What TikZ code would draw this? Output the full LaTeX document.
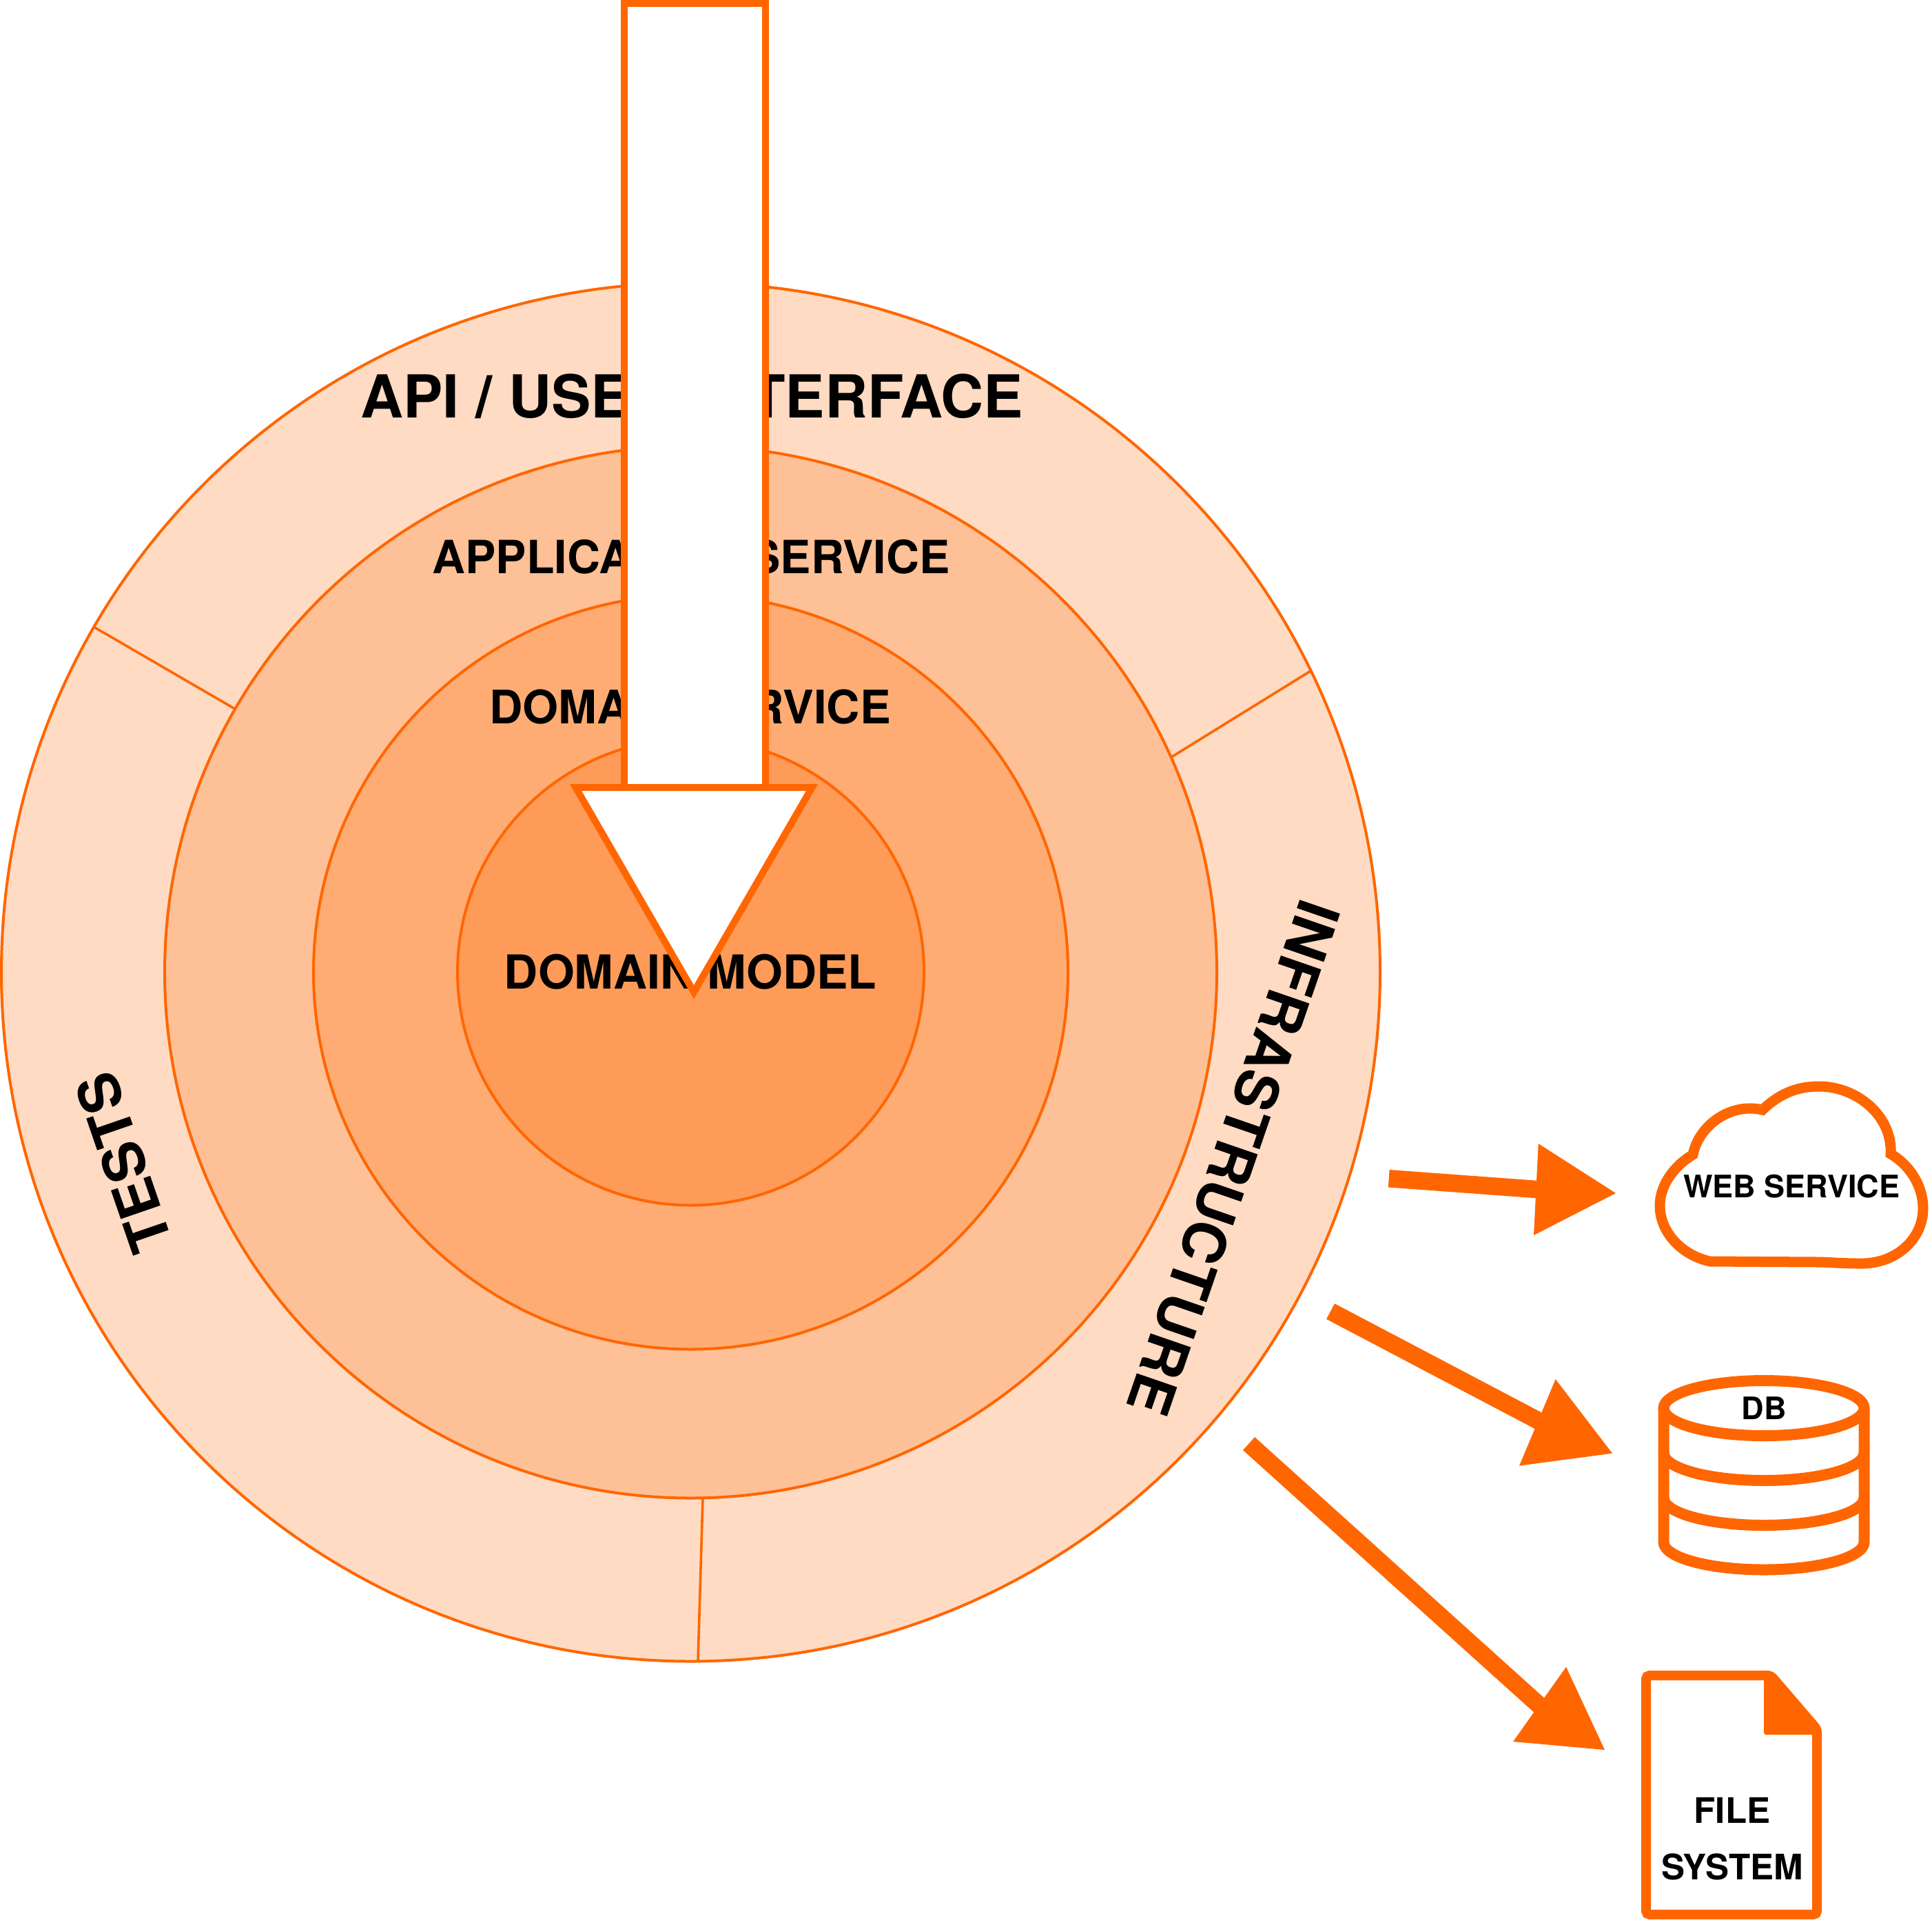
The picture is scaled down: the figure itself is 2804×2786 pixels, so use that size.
\documentclass[tikz,border=0pt]{standalone}
\usepackage{fontspec}
\setmainfont{TeX Gyre Heros}
\definecolor{org}{HTML}{FF6600}
\definecolor{ringA}{HTML}{FEDBC2}
\definecolor{ringB}{HTML}{FEC096}
\definecolor{ringC}{HTML}{FEAC73}
\definecolor{ringD}{HTML}{FE9B58}
\tikzset{
  x=1pt,y=-1pt,
  ring/.style={draw=org,line width=4pt},
  divider/.style={draw=org,line width=3.6pt},
  big/.style={font=\bfseries\fontsize{86}{90}\selectfont,inner sep=0pt,anchor=base},
  mid/.style={font=\bfseries\fontsize{67}{70}\selectfont,inner sep=0pt,anchor=base},
  arc text/.style={font=\bfseries\fontsize{85}{88}\selectfont,inner sep=0pt,anchor=base west},
  small/.style={font=\bfseries\fontsize{45}{50}\selectfont,inner sep=0pt,anchor=base},
  hollow/.style={draw=org,line width=10pt,fill=white,miter limit=10},
  flow/.style={draw=org,line width=25.5pt},
  flowhead/.style={fill=org},
  icon/.style={draw=org,line width=15pt,fill=white},
}
\begin{document}
\begin{tikzpicture}
\useasboundingbox (0,0) rectangle (2804,2786);
\coordinate (c) at (1002.5,1411);
% rings
\path[ring,fill=ringA] (c) circle[radius=1000.5pt];
\path[ring,fill=ringB] (c) circle[radius=763.5pt];
\path[ring,fill=ringC] (c) circle[radius=547.5pt];
\path[ring,fill=ringD] (c) circle[radius=338.5pt];
% dividers
\coordinate (d1a) at (137,910.5);  \coordinate (d1b) at (341,1029);
\coordinate (d2a) at (1902,974); \coordinate (d2b) at (1700,1099);
\coordinate (d3a) at (1020,2174);\coordinate (d3b) at (1013,2411);
\draw[divider] (d1a) -- (d1b);
\draw[divider] (d2a) -- (d2b);
\draw[divider] (d3a) -- (d3b);
% ring labels
\node[big] (api) at (1004,606) {API / USER INTERFACE};
\node[mid,font=\bfseries\fontsize{66.4}{70}\selectfont] (app) at (1003,832) {APPLICATION SERVICE};
\node[mid] (dsv) at (1001.5,1050) {DOMAIN SERVICE};
\node[mid,font=\bfseries\fontsize{68}{70}\selectfont] (dmd) at (1002,1435.5) {DOMAIN MODEL};
\node[arc text,rotate=-109] (infra) at (1889,1301) {INFRASTRUCTURE};
\node[arc text,font=\bfseries\fontsize{83.5}{88}\selectfont,rotate=109] (tests) at (252,1805) {TESTS};
% big arrow
\draw[hollow] (905.5,-20) -- (905.5,1143) -- (1111,1143) -- (1111,-20);
\draw[draw=org,line width=10pt] (900.5,5) -- (1116,5);
\draw[hollow] (835.5,1143) -- (1178.5,1143) -- (1007,1440) -- cycle;
% side arrows
\coordinate (a1s) at (2015.7,1710.7); \coordinate (a1b) at (2232,1726.6);
\coordinate (a1l) at (2232.7,1660);   \coordinate (a1r) at (2226,1793); \coordinate (a1e) at (2345,1732);
\coordinate (a2s) at (1931,1903.5);   \coordinate (a2b) at (2235,2063.5);
\coordinate (a2l) at (2257.6,2002);   \coordinate (a2r) at (2205,2127.6); \coordinate (a2e) at (2340,2109.6);
\coordinate (a3s) at (1812.5,2095.5); \coordinate (a3b) at (2238,2479);
\coordinate (a3l) at (2273,2419.6);   \coordinate (a3r) at (2196,2528); \coordinate (a3e) at (2329,2540);
\draw[flow] (a1s) -- (a1b);
\fill[flowhead] (a1l) -- (a1e) -- (a1r) -- cycle;
\draw[flow] (a2s) -- (a2b);
\fill[flowhead] (a2l) -- (a2e) -- (a2r) -- cycle;
\draw[flow] (a3s) -- (a3b);
\fill[flowhead] (a3l) -- (a3e) -- (a3r) -- cycle;
% cloud
\draw[icon] (2457,1676)
  .. controls (2465,1635) and (2510,1600) .. (2558,1611)
  .. controls (2585,1585) and (2612,1577) .. (2640,1577)
  .. controls (2695,1577) and (2747,1620) .. (2744,1675)
  .. controls (2770,1690) and (2791,1720) .. (2791,1754)
  .. controls (2791,1800) and (2750,1836) .. (2697,1834)
  .. controls (2675,1834) and (2650,1832) .. (2640,1832)
  -- (2482,1831)
  .. controls (2440,1822) and (2409,1788) .. (2409,1750)
  .. controls (2409,1720) and (2430,1692) .. (2457,1676) -- cycle;
\node[small] (web) at (2600,1738) {WEB SERVICE};
% database
\draw[icon,line width=16pt] (2414.5,2044) -- (2414.5,2238.5)
   arc[start angle=180,end angle=360,x radius=145.5pt,y radius=40pt]
   -- (2705.5,2044);
\draw[icon,line width=16pt] (2560,2044) ellipse[x radius=145.5pt,y radius=40pt];
\draw[org,line width=16pt] (2414.5,2109) arc[start angle=180,end angle=360,x radius=145.5pt,y radius=40pt];
\draw[org,line width=16pt] (2414.5,2174) arc[start angle=180,end angle=360,x radius=145.5pt,y radius=40pt];
\node[small] (db) at (2560,2060) {DB};
% file
\draw[icon,line width=14pt,rounded corners=5pt] (2389,2432) -- (2570,2432) -- (2637,2510) -- (2637,2779) -- (2389,2779) -- cycle;
\fill[org,rounded corners=3pt] (2560,2428) -- (2572,2428) -- (2642,2510) -- (2636,2518) -- (2560,2518) -- cycle;
\node[small,font=\bfseries\fontsize{51}{82}\selectfont,align=center,anchor=center] (file) at (2514,2669.5) {FILE\\SYSTEM};
\end{tikzpicture}
\end{document}
